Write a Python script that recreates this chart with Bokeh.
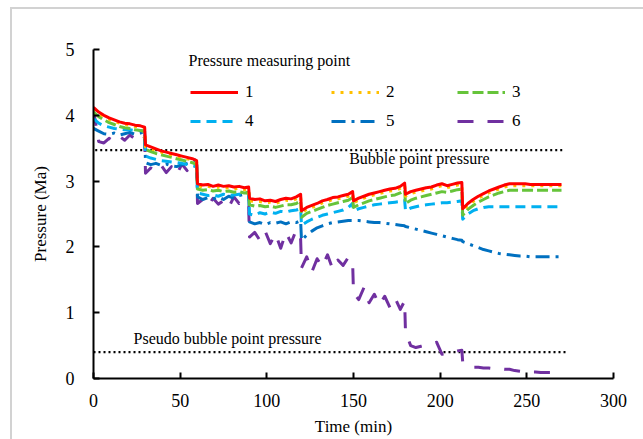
from bokeh.plotting import figure
from bokeh.models import Range1d, Legend, LegendItem, Label, FixedTicker, InlineStyleSheet
from bokeh.embed import file_html
from bokeh.resources import INLINE

# ---------------- data ----------------
TIME = [0, 3, 6, 9, 12, 15, 18, 21, 24, 27, 29.5,
        30, 33, 36, 39, 42, 45, 48, 51, 54, 57, 59.5,
        60, 63, 66, 69, 72, 75, 78, 81, 84, 87, 89.5,
        90, 93, 96, 99, 102, 105, 108, 111, 114, 117, 119.5,
        120, 123, 126, 129, 132, 135, 138, 141, 144, 147, 149.5,
        150, 153, 156, 159, 162, 165, 168, 171, 174, 177, 179.5,
        180, 183, 186, 189, 192, 195, 198, 201, 204, 207, 210, 212.5,
        213, 216, 219, 222, 225, 228, 231, 234, 237, 240, 243, 246, 249, 252, 255, 258, 261, 264, 267, 270]

P1 = [4.12, 4.05, 4.00, 3.96, 3.93, 3.90, 3.88, 3.87, 3.85, 3.84, 3.82,
      3.55, 3.52, 3.49, 3.46, 3.44, 3.42, 3.40, 3.38, 3.36, 3.34, 3.31,
      2.96, 2.94, 2.95, 2.92, 2.94, 2.92, 2.93, 2.91, 2.92, 2.90, 2.91,
      2.74, 2.72, 2.73, 2.70, 2.71, 2.69, 2.72, 2.74, 2.73, 2.76, 2.80,
      2.55, 2.60, 2.63, 2.66, 2.70, 2.72, 2.75, 2.76, 2.78, 2.80, 2.84,
      2.70, 2.74, 2.77, 2.80, 2.82, 2.84, 2.86, 2.88, 2.89, 2.92, 2.97,
      2.80, 2.84, 2.86, 2.88, 2.90, 2.91, 2.94, 2.96, 2.93, 2.95, 2.97, 2.98,
      2.58, 2.66, 2.72, 2.77, 2.81, 2.85, 2.88, 2.91, 2.94, 2.96, 2.96, 2.96, 2.96, 2.95, 2.95, 2.95, 2.95, 2.95, 2.95, 2.95]

P2 = [4.10, 4.03, 3.98, 3.94, 3.91, 3.88, 3.86, 3.85, 3.83, 3.82, 3.80,
      3.52, 3.49, 3.47, 3.44, 3.42, 3.40, 3.38, 3.36, 3.34, 3.32, 3.29,
      2.93, 2.91, 2.92, 2.90, 2.91, 2.89, 2.90, 2.88, 2.89, 2.87, 2.88,
      2.70, 2.69, 2.69, 2.67, 2.68, 2.66, 2.69, 2.71, 2.70, 2.73, 2.77,
      2.52, 2.57, 2.60, 2.63, 2.67, 2.69, 2.72, 2.73, 2.75, 2.77, 2.81,
      2.67, 2.71, 2.74, 2.77, 2.79, 2.81, 2.83, 2.85, 2.86, 2.89, 2.94,
      2.77, 2.81, 2.83, 2.85, 2.87, 2.88, 2.91, 2.93, 2.90, 2.92, 2.94, 2.95,
      2.55, 2.63, 2.69, 2.74, 2.78, 2.82, 2.85, 2.88, 2.91, 2.93, 2.93, 2.93, 2.93, 2.93, 2.93, 2.93, 2.93, 2.93, 2.93, 2.93]

P3 = [4.05, 3.98, 3.93, 3.89, 3.86, 3.83, 3.81, 3.80, 3.78, 3.77, 3.75,
      3.48, 3.45, 3.42, 3.40, 3.38, 3.36, 3.34, 3.32, 3.30, 3.28, 3.25,
      2.88, 2.86, 2.87, 2.85, 2.86, 2.84, 2.85, 2.83, 2.84, 2.82, 2.83,
      2.64, 2.62, 2.63, 2.61, 2.62, 2.60, 2.62, 2.64, 2.64, 2.66, 2.70,
      2.45, 2.51, 2.54, 2.57, 2.60, 2.63, 2.65, 2.67, 2.69, 2.71, 2.75,
      2.60, 2.64, 2.67, 2.70, 2.72, 2.74, 2.76, 2.78, 2.79, 2.82, 2.86,
      2.66, 2.71, 2.74, 2.76, 2.78, 2.80, 2.82, 2.84, 2.83, 2.85, 2.87, 2.88,
      2.48, 2.57, 2.63, 2.68, 2.72, 2.76, 2.79, 2.82, 2.84, 2.86, 2.86, 2.86, 2.86, 2.86, 2.86, 2.86, 2.86, 2.86, 2.86, 2.86]

P4 = [3.95, 3.88, 3.84, 3.82, 3.80, 3.79, 3.78, 3.78, 3.77, 3.77, 3.76,
      3.38, 3.35, 3.33, 3.31, 3.30, 3.29, 3.28, 3.27, 3.25, 3.23, 3.22,
      2.82, 2.80, 2.78, 2.79, 2.77, 2.80, 2.78, 2.79, 2.80, 2.81, 2.82,
      2.50, 2.48, 2.52, 2.50, 2.53, 2.51, 2.54, 2.53, 2.55, 2.56, 2.58,
      2.33, 2.38, 2.42, 2.45, 2.48, 2.50, 2.52, 2.54, 2.56, 2.60, 2.66,
      2.55, 2.58, 2.60, 2.62, 2.64, 2.65, 2.66, 2.67, 2.68, 2.69, 2.71,
      2.55, 2.59, 2.61, 2.63, 2.64, 2.65, 2.66, 2.67, 2.67, 2.68, 2.69, 2.70,
      2.42, 2.50, 2.55, 2.58, 2.60, 2.61, 2.61, 2.61, 2.61, 2.61, 2.61, 2.61, 2.61, 2.61, 2.61, 2.61, 2.61, 2.61, 2.61, 2.61]

P5 = [3.80, 3.76, 3.72, 3.71, 3.73, 3.70, 3.72, 3.74, 3.71, 3.73, 3.76,
      3.28, 3.25, 3.27, 3.24, 3.26, 3.23, 3.22, 3.25, 3.27, 3.30, 3.33,
      2.76, 2.72, 2.75, 2.73, 2.76, 2.72, 2.77, 2.74, 2.78, 2.80, 2.82,
      2.38, 2.35, 2.37, 2.34, 2.37, 2.36, 2.38, 2.35, 2.38, 2.37, 2.40,
      2.10, 2.18, 2.24, 2.29, 2.32, 2.35, 2.37, 2.38, 2.39, 2.40, 2.40,
      2.40, 2.40, 2.39, 2.38, 2.37, 2.37, 2.36, 2.35, 2.34, 2.33, 2.32,
      2.31, 2.29, 2.27, 2.25, 2.23, 2.21, 2.19, 2.17, 2.15, 2.13, 2.11, 2.10,
      2.08, 2.05, 2.02, 1.99, 1.96, 1.94, 1.92, 1.90, 1.89, 1.88, 1.87, 1.86, 1.86, 1.85, 1.85, 1.85, 1.85, 1.85, 1.85, 1.85]

P6 = [4.08, 3.60, 3.58, 3.65, 3.60, 3.68, 3.62, 3.70, 3.64, 3.72, 3.66,
      3.12, 3.20, 3.15, 3.24, 3.13, 3.22, 3.10, 3.26, 3.16, 3.30, 3.20,
      2.66, 2.72, 2.62, 2.74, 2.65, 2.70, 2.60, 2.76, 2.66, 2.72, 2.62,
      2.15, 2.22, 2.10, 2.24, 2.05, 2.20, 1.98, 2.22, 2.06, 2.26, 2.12,
      1.68, 1.85, 1.62, 1.82, 1.70, 1.88, 1.66, 1.80, 1.72, 1.84, 1.76,
      1.30, 1.20, 1.38, 1.15, 1.28, 1.12, 1.25, 1.08, 1.22, 1.05, 1.18,
      0.70, 0.50, 0.47, 0.49, 0.51, 0.53, 0.55, 0.37, 0.38, 0.40, 0.42, 0.43,
      0.25, 0.18, 0.17, 0.17, 0.16, 0.16, 0.15, 0.15, 0.14, 0.14, 0.12, 0.11, 0.10, 0.10, 0.10, 0.09, 0.09, 0.09, 0.09, 0.09]

SERIES_NAMES = ["1", "2", "3", "4", "5", "6"]
BUBBLE_P = 3.47
PSEUDO_BUBBLE_P = 0.40
BUBBLE_T = [1, 271]
PSEUDO_T = [0, 273]
X_TICKS = [0, 50, 100, 150, 200, 250, 300]
Y_TICKS = [0, 1, 2, 3, 4, 5]

FONT = "Liberation Serif"

frame_css = InlineStyleSheet(css="""
:host { position: relative; overflow: hidden; }
:host::after {
  content: "";
  position: absolute;
  left: 10px; top: 7px; width: 700px; height: 500px;
  border-left: 2px solid #d2d2d2; border-top: 2px solid #d2d2d2;
  pointer-events: none;
}
""")

p = figure(width=643, height=439, output_backend="svg", toolbar_location=None,
           x_range=Range1d(0, 300), y_range=Range1d(0, 5),
           min_border_left=93, min_border_right=30, min_border_top=49, min_border_bottom=61,
           stylesheets=[frame_css])
p.outline_line_color = None
p.grid.visible = False
p.background_fill_color = "white"
p.border_fill_color = "white"

for ax in (p.xaxis[0], p.yaxis[0]):
    ax.axis_line_width = 2
    ax.axis_line_color = "black"
    ax.major_tick_in = 6
    ax.major_tick_out = 0
    ax.major_tick_line_width = 2
    ax.minor_tick_line_color = None
    ax.major_label_text_font = FONT
    ax.major_label_text_font_size = "18px"
    ax.major_label_text_color = "black"
    ax.axis_label_text_font = FONT
    ax.axis_label_text_font_size = "17px"
    ax.axis_label_text_font_style = "normal"
    ax.axis_label_text_color = "black"

p.xaxis.ticker = FixedTicker(ticks=X_TICKS)
p.yaxis.ticker = FixedTicker(ticks=Y_TICKS)
p.xaxis.axis_label = "Time (min)"
p.yaxis.axis_label = "Pressure (Ma)"
p.xaxis.major_label_standoff = 15
p.yaxis.major_label_standoff = 19
p.xaxis.axis_label_standoff = 7
p.yaxis.axis_label_standoff = 13

# reference lines
p.line(BUBBLE_T, [BUBBLE_P] * 2, line_color="black", line_width=2.2, line_dash="2 3")
p.line(PSEUDO_T, [PSEUDO_BUBBLE_P] * 2, line_color="black", line_width=2.2, line_dash="2 3")

styles = [
    dict(color="#FF0000", dash="solid"),
    dict(color="#FFC000", dash="3 6"),
    dict(color="#66C43A", dash="11 4"),
    dict(color="#00B0F0", dash="10 6"),
    dict(color="#0070C0", dash="14 6 3 6"),
    dict(color="#7030A0", dash="16 14"),
]
series = [P1, P2, P3, P4, P5, P6]
renderers = []
for vals, st in reversed(list(zip(series, styles))):
    r = p.line(TIME, vals, line_color=st["color"], line_width=3, line_dash=st["dash"],
               line_join="round")
    renderers.append(r)
renderers = renderers[::-1]

# legend: three columns
col_x = [97, 238, 364]
for c in range(3):
    items = [LegendItem(label=SERIES_NAMES[c], renderers=[renderers[c]]),
             LegendItem(label=SERIES_NAMES[c + 3], renderers=[renderers[c + 3]])]
    leg = Legend(items=items, location=(col_x[c], 247), orientation="vertical",
                 glyph_width=48, glyph_height=20, label_height=20, label_standoff=7,
                 spacing=9, padding=0, margin=0,
                 border_line_alpha=0, background_fill_alpha=0,
                 label_text_font=FONT, label_text_font_size="17px", label_text_color="black")
    p.add_layout(leg)

p.add_layout(Label(x=54.8, y=4.83, text="Pressure measuring  point", text_font=FONT,
                   text_font_size="16px", text_baseline="middle", text_align="left",
                   text_color="black"))
p.add_layout(Label(x=188, y=3.34, text="Bubble point pressure", text_font=FONT,
                   text_font_size="16px", text_baseline="middle", text_align="center",
                   text_color="black"))
p.add_layout(Label(x=23.1, y=0.61, text="Pseudo bubble point pressure", text_font=FONT,
                   text_font_size="16px", text_baseline="middle", text_align="left",
                   text_color="black"))

open("out.html", "w").write(file_html(p, INLINE))
